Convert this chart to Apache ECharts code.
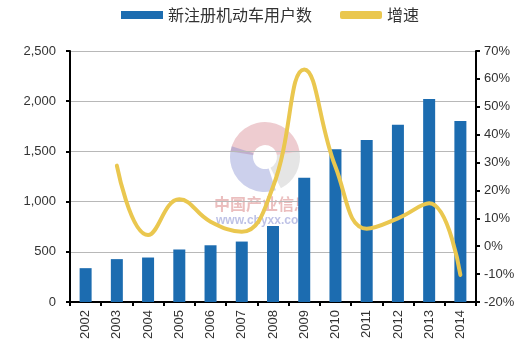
<!DOCTYPE html>
<html><head><meta charset="utf-8">
<script src="https://cdn.jsdelivr.net/npm/echarts@6/dist/echarts.min.js"></script>
<style>html,body{margin:0;padding:0;background:#fff}#c{width:531px;height:348px}</style>
</head><body><div id="c"></div>
<script>
const categories = ['2002','2003','2004','2005','2006','2007','2008','2009','2010','2011','2012','2013','2014'];
const registrations = [337, 427, 443, 523, 565, 602, 757, 1238, 1521, 1614, 1766, 2021, 1802];
const growth = [null, 28.9, 4.0, 16.8, 8.8, 5.2, 21.3, 63.4, 28.5, 6.3, 10.0, 15.4, -10.3];
const leftTicks = [0, 500, 1000, 1500, 2000, 2500];
const rightTicks = [-20, -10, 0, 10, 20, 30, 40, 50, 60, 70];
const seriesNames = ['新注册机动车用户数', '增速'];

const chart = echarts.init(document.getElementById('c'), null, {renderer: 'canvas'});
const font = '"Liberation Sans", Arial, sans-serif';
chart.setOption({
  animation: false,
  legend: {
    top: 2, left: 116,
    itemGap: 28,
    itemWidth: 42, itemHeight: 8,
    textStyle: {fontFamily: '"Noto Sans CJK SC"', fontSize: 16, color: '#333'},
    data: [
      {name: seriesNames[0], icon: 'rect'},
      {name: seriesNames[1], icon: 'roundRect', itemStyle: {color: '#EAC74F'}}
    ]
  },
  grid: {left: 70, right: 55, top: 51, bottom: 46},
  xAxis: {
    type: 'category', data: categories,
    axisLine: {lineStyle: {color: '#000', width: 2}},
    axisTick: {show: true, length: 4, lineStyle: {color: '#000', width: 2}},
    axisLabel: {rotate: 90, fontFamily: font, fontSize: 13, color: '#333', margin: 8}
  },
  yAxis: [
    {
      type: 'value', min: leftTicks[0], max: leftTicks[leftTicks.length - 1], interval: 500,
      axisLine: {show: true, lineStyle: {color: '#000', width: 2}},
      axisTick: {show: true, length: 4, lineStyle: {color: '#000', width: 2}},
      axisLabel: {fontFamily: font, fontSize: 13, color: '#333', margin: 14,
        formatter: v => v.toLocaleString('en-US')},
      splitLine: {lineStyle: {color: '#b8b8b8', width: 1}}
    },
    {
      type: 'value', min: rightTicks[0], max: rightTicks[rightTicks.length - 1], interval: 10,
      position: 'right',
      axisLine: {show: true, lineStyle: {color: '#000', width: 2}},
      axisTick: {show: true, length: 4, lineStyle: {color: '#000', width: 2}},
      axisLabel: {fontFamily: font, fontSize: 13, color: '#333', margin: 8, formatter: '{value}%'},
      splitLine: {show: false}
    }
  ],
  graphic: [
    {type: 'sector', shape: {cx: 265, cy: 157, r: 35, r0: 12, startAngle: Math.PI * 1.05, endAngle: Math.PI * 1.95},
     style: {fill: 'rgba(205,110,120,0.35)'}, z: 0},
    {type: 'sector', shape: {cx: 265, cy: 157, r: 35, r0: 12, startAngle: Math.PI * 0.4, endAngle: Math.PI * 1.1},
     style: {fill: 'rgba(110,120,200,0.35)'}, z: 0},
    {type: 'sector', shape: {cx: 265, cy: 157, r: 35, r0: 12, startAngle: Math.PI * -0.05, endAngle: Math.PI * 0.35},
     style: {fill: 'rgba(170,170,170,0.3)'}, z: 0},
    {type: 'text', left: 214, top: 196, z: 0,
     style: {text: '中国产业信息', fontSize: 16, fontWeight: 'bold', fontFamily: '"Noto Sans CJK SC"', fill: 'rgba(210,110,110,0.45)'}},
    {type: 'text', left: 216, top: 215, z: 0,
     style: {text: 'www.chyxx.com', fontSize: 12, fontWeight: 'bold', fontFamily: font, fill: 'rgba(110,120,200,0.45)'}}
  ],
  series: [
    {
      name: seriesNames[0], type: 'bar', data: registrations, yAxisIndex: 0,
      barWidth: 12, itemStyle: {color: '#1C6CB0'}, z: 2
    },
    {
      name: seriesNames[1], type: 'line', data: growth, yAxisIndex: 1,
      smooth: 0.45, showSymbol: false, symbol: 'none',
      lineStyle: {color: '#EAC74F', width: 4, cap: 'round'},
      itemStyle: {color: '#EAC74F'}, z: 3
    }
  ]
});
</script>
</body></html>
